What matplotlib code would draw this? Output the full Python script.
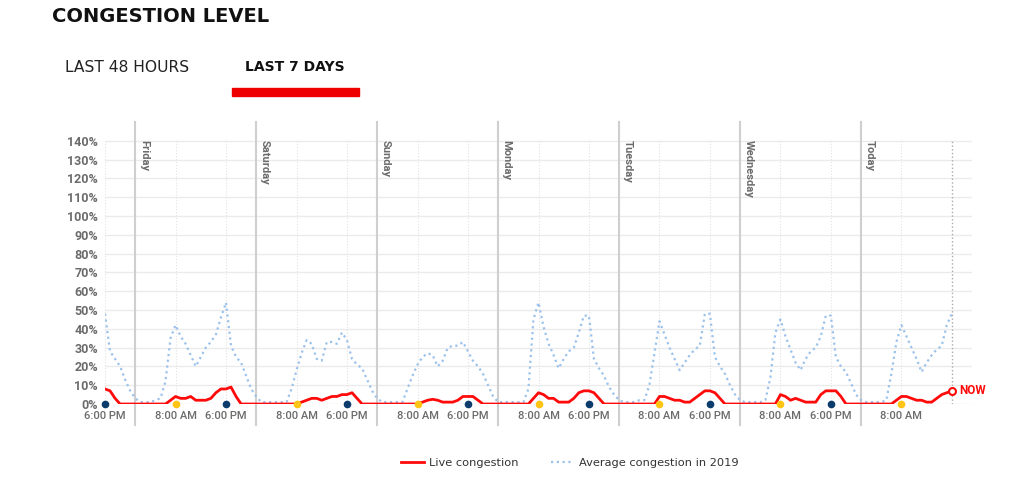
import numpy as np
import matplotlib.pyplot as plt
from matplotlib.lines import Line2D

# hours since Thursday 6:00 PM, one value per hour
live = (
    [8, 7, 3, 0, 0, 0, 0, 0, 0, 0, 0, 0, 0, 2, 4, 3, 3, 4, 2, 2, 2, 3, 6, 8] +
    [8, 9, 4, 0, 0, 0, 0, 0, 0, 0, 0, 0, 0, 0, 0, 1, 2, 3, 3, 2, 3, 4, 4, 5] +
    [5, 6, 3, 0, 0, 0, 0, 0, 0, 0, 0, 0, 0, 0, 0, 1, 2, 2.5, 2, 1, 1, 1, 2, 4] +
    [4, 4, 2, 0, 0, 0, 0, 0, 0, 0, 0, 0, 0, 3, 6, 5, 3, 3, 1, 1, 1, 3, 6, 7] +
    [7, 6, 3, 0, 0, 0, 0, 0, 0, 0, 0, 0, 0, 0, 4, 4, 3, 2, 2, 1, 1, 3, 5, 7] +
    [7, 6, 3, 0, 0, 0, 0, 0, 0, 0, 0, 0, 0, 0, 5, 4, 2, 3, 2, 1, 1, 1, 5, 7] +
    [7, 7, 4, 0, 0, 0, 0, 0, 0, 0, 0, 0, 0, 2, 4, 4, 3, 2, 2, 1, 1, 3, 5, 6, 7]
)
avg2019 = (
    [48, 28, 24, 20, 13, 7, 3, 1, 1, 1, 2, 3, 12, 35, 42, 36, 32, 26, 20, 25, 30, 33, 37, 46] +
    [54, 31, 25, 22, 15, 8, 4, 1, 1, 1, 1, 1, 1, 8, 18, 27, 34, 32, 24, 23, 33, 33, 32, 38] +
    [34, 24, 21, 19, 13, 7, 3, 1, 1, 1, 1, 1, 8, 15, 21, 25, 27, 26, 20, 23, 30, 31, 31, 33] +
    [28, 23, 20, 16, 10, 4, 1, 1, 1, 1, 1, 1, 8, 45, 54, 41, 32, 26, 19, 24, 28, 30, 38, 47] +
    [47, 24, 19, 15, 9, 5, 2, 1, 1, 1, 2, 2, 10, 27, 44, 37, 30, 24, 18, 22, 26, 29, 31, 48] +
    [48, 25, 20, 16, 10, 5, 2, 1, 1, 1, 1, 2, 14, 38, 45, 36, 29, 22, 18, 24, 28, 30, 36, 47] +
    [47, 25, 20, 17, 11, 5, 2, 1, 1, 1, 1, 2, 16, 33, 42, 36, 30, 24, 17, 22, 26, 29, 31, 42, 48]
)
hours = np.arange(len(live))

day_names = ['Friday', 'Saturday', 'Sunday', 'Monday', 'Tuesday', 'Wednesday', 'Today']
day_starts = [6, 30, 54, 78, 102, 126, 150]
pm6 = [0, 24, 48, 72, 96, 120, 144]
am8 = [14, 38, 62, 86, 110, 134, 158]
now_h = 168

RED = '#ff0a0a'
BLUE = '#9cc2ec'
GRAY = '#6b6b6b'
TICKFONT = ['Roboto', 'DejaVu Sans']

fig = plt.figure(figsize=(10.24, 4.8), dpi=100)
ax = fig.add_axes([105 / 1024, 76 / 480, 867 / 1024, 282 / 480])

ax.set_xlim(0, 172)
ax.set_ylim(0, 150)
for s in ax.spines.values():
    s.set_visible(False)

yt = np.arange(0, 141, 10)
ax.set_yticks(yt)
ax.set_yticklabels([f'{v}%' for v in yt], fontsize=9, fontweight='bold', color=GRAY,
                   family=TICKFONT)
for v in yt:
    ax.axhline(v, color='#ebebeb', lw=1, zorder=0)

ticks = sorted([0] + am8 + pm6[1:])
labels = ['6:00 PM' if t % 24 == 0 else '8:00 AM' for t in ticks]
ax.set_xticks(ticks)
ax.set_xticklabels(labels, fontsize=8, fontweight='medium', color=GRAY, family=TICKFONT)
ax.tick_params(length=0, pad=5)
ax.tick_params(axis='y', pad=5)

# faint dotted guides at tick hours
for t in ticks:
    ax.plot([t, t], [0, 140], color='#e2e2e2', lw=0.8, ls=':', zorder=0)
ax.plot([now_h, now_h], [0, 140], color='#aaaaaa', lw=1, ls=':', zorder=1)

for d, name in zip(day_starts, day_names):
    ax.plot([d, d], [-11, 150], color='#cfcfcf', lw=1.5, clip_on=False, zorder=1)
    ax.text(d + 0.7, 140.5, name, rotation=-90, va='top', ha='left',
            fontsize=8, fontweight='bold', color=GRAY, family=TICKFONT)

ax.plot(hours, avg2019, color=BLUE, lw=1.6, ls=(0, (1, 1.6)), zorder=3)
ax.plot(hours, live, color=RED, lw=2, zorder=4)
ax.plot([hours[-1]], [live[-1]], 'o', ms=5, mfc='white', mec=RED, mew=1.5, zorder=5)
ax.text(hours[-1] + 1.5, live[-1], 'NOW', color=RED, fontsize=8.5, fontweight='bold',
        va='center', ha='left', family=TICKFONT)

ax.plot(pm6, [0] * len(pm6), 'o', color='#0b3c6c', ms=4.5, clip_on=False, zorder=6)
ax.plot(am8, [0] * len(am8), 'o', color='#ffc414', ms=4.5, clip_on=False, zorder=6)

fig.text(52 / 1024, 1 - 16 / 480, 'CONGESTION LEVEL', fontsize=14, fontweight='bold',
         va='center', ha='left', color='#111111')
fig.text(65 / 1024, 1 - 67 / 480, 'LAST 48 HOURS', fontsize=11.2,
         va='center', ha='left', color='#222222')
fig.text(245 / 1024, 1 - 67 / 480, 'LAST 7 DAYS', fontsize=10, fontweight='bold',
         va='center', ha='left', color='#111111')
fig.patches.append(plt.Rectangle((232 / 1024, 1 - 96 / 480), 127 / 1024, 8 / 480,
                                 transform=fig.transFigure, color='#ee0000'))

handles = [Line2D([], [], color=RED, lw=2),
           Line2D([], [], color=BLUE, lw=1.6, ls=(0, (1, 1.6)))]
fig.legend(handles, ['Live congestion', 'Average congestion in 2019'],
           loc='center', bbox_to_anchor=(570 / 1024, 17 / 480), ncol=2, frameon=False,
           fontsize=8.2, handlelength=2.0, handletextpad=0.5, columnspacing=2.8,
           labelcolor='#333333')

fig.savefig('out.png', dpi=100)
